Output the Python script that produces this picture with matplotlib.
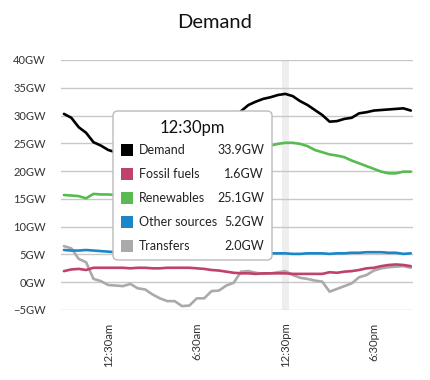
import matplotlib
matplotlib.use("Agg")
import matplotlib.pyplot as plt
from matplotlib.patches import FancyBboxPatch, Rectangle
import numpy as np

plt.rcParams['font.family'] = ['Lato', 'DejaVu Sans']

# Half-hourly samples from 9:30pm to 9:00pm (48 points)
tick_idx = [6, 18, 30, 42]
tick_labels = ["12:30am", "6:30am", "12:30pm", "6:30pm"]

demand = [30.3, 29.6, 27.9, 26.9, 25.2, 24.6, 23.8, 23.4, 23.0, 22.9, 22.4, 22.3,
          21.9, 21.8, 21.9, 22.3, 22.2, 22.9, 24.5, 25.0, 26.5, 27.1, 28.2, 28.8,
          30.8, 31.9, 32.5, 33.0, 33.3, 33.7, 33.9, 33.5, 32.6, 31.9, 31.0, 30.1,
          28.9, 29.0, 29.4, 29.6, 30.4, 30.6, 30.9, 31.0, 31.1, 31.2, 31.3, 30.9]
fossil = [2.0, 2.3, 2.4, 2.2, 2.6, 2.6, 2.6, 2.6, 2.6, 2.5, 2.6, 2.6,
          2.5, 2.5, 2.6, 2.6, 2.6, 2.6, 2.5, 2.4, 2.2, 2.1, 1.9, 1.7,
          1.6, 1.6, 1.5, 1.6, 1.6, 1.6, 1.6, 1.5, 1.5, 1.5, 1.5, 1.5,
          1.8, 1.7, 1.9, 2.0, 2.2, 2.5, 2.6, 2.9, 3.1, 3.2, 3.1, 2.9]
renewables = [15.7, 15.6, 15.5, 15.1, 15.9, 15.8, 15.8, 15.7, 15.7, 15.3, 15.5, 15.6,
              16.2, 16.8, 17.3, 17.7, 18.6, 19.2, 19.6, 20.2, 20.6, 21.2, 21.6, 21.9,
              22.0, 23.0, 23.9, 24.4, 24.6, 24.9, 25.1, 25.1, 24.9, 24.5, 23.8, 23.4,
              23.0, 22.8, 22.5, 21.9, 21.4, 20.9, 20.4, 19.9, 19.6, 19.6, 19.9, 19.9]
other = [5.8, 5.7, 5.7, 5.8, 5.7, 5.6, 5.5, 5.4, 5.4, 5.4, 5.4, 5.4,
         5.4, 5.4, 5.4, 5.4, 5.3, 5.3, 5.3, 5.3, 5.3, 5.3, 5.3, 5.3,
         5.3, 5.3, 5.3, 5.2, 5.2, 5.2, 5.2, 5.1, 5.1, 5.2, 5.2, 5.2,
         5.1, 5.2, 5.2, 5.3, 5.3, 5.4, 5.4, 5.4, 5.3, 5.3, 5.1, 5.2]
transfers = [6.5, 6.1, 4.2, 3.6, 0.6, 0.2, -0.5, -0.6, -0.7, -0.3, -1.1, -1.3,
             -2.2, -2.9, -3.4, -3.4, -4.3, -4.2, -2.9, -2.9, -1.6, -1.5, -0.6, -0.1,
             1.9, 2.0, 1.7, 1.5, 1.6, 1.8, 2.0, 1.3, 0.8, 0.6, 0.3, 0.1,
             -1.7, -1.2, -0.7, -0.2, 0.9, 1.3, 2.1, 2.5, 2.7, 2.8, 2.9, 2.6]

series_names = ["Demand", "Fossil fuels", "Renewables", "Other sources", "Transfers"]
series_colors = ["#000000", "#BF4368", "#58BB50", "#1B87C9", "#AAAAAA"]
series_data = [demand, fossil, renewables, other, transfers]
hover_idx = 30
hover_label = "12:30pm"
y_ticks = [-5, 0, 5, 10, 15, 20, 25, 30, 35, 40]

W, H = 430, 380
fig = plt.figure(figsize=(W / 100, H / 100), dpi=100)
ax = fig.add_axes([61 / W, 1 - 310 / H, (413 - 61) / W, (310 - 60) / H])

x = np.arange(len(demand))
ax.axvspan(hover_idx - 0.5, hover_idx + 0.5, color="#EEEEEE", zorder=0, lw=0)
draw_order = [4, 1, 3, 2, 0]
for k in draw_order:
    ax.plot(x, series_data[k], color=series_colors[k], lw=1.9, zorder=3,
            solid_joinstyle="round", solid_capstyle="round")

ax.set_xlim(-0.4, 47.3)
ax.set_ylim(-5, 40)
ax.set_yticks(y_ticks)
ax.set_yticklabels([f"{v}GW".replace("-", "\u2212") for v in y_ticks])
ax.set_xticks(tick_idx)
ax.set_xticklabels(tick_labels, rotation=90)
ax.grid(axis="y", color="#C8C8C8", lw=1)
ax.set_axisbelow(True)
for s in ax.spines.values():
    s.set_visible(False)
ax.tick_params(axis="both", length=0, labelsize=8.2, colors="#333333")
ax.tick_params(axis="y", labelsize=8, pad=11)
ax.tick_params(axis="x", pad=9)

fig.text(0.5, 1 - 22 / H, "Demand", ha="center", va="center", fontsize=14.5,
         color="#111111", fontweight="normal")

# Tooltip
def fx(px):
    return px / W

def fy(py):
    return 1 - py / H

bx0, by0, bx1, by1 = 113, 111, 272, 260
box = FancyBboxPatch((fx(bx0), fy(by1)), fx(bx1) - fx(bx0), fy(by0) - fy(by1),
                     boxstyle="round,pad=0,rounding_size=0.012",
                     transform=fig.transFigure, facecolor="white",
                     edgecolor="#BBBBBB", lw=1, zorder=10)
fig.patches.append(box)
fig.text(fx(192), fy(128), hover_label, ha="center", va="center",
         fontsize=12, color="#111111", fontweight="normal", zorder=11)
row_y = [150, 174, 198, 222, 246]
for k in range(len(series_names)):
    ry = row_y[k]
    sq = Rectangle((fx(121), fy(ry + 6)), fx(12), 12 / H, transform=fig.transFigure,
                   facecolor=series_colors[k], edgecolor="none", zorder=11)
    fig.patches.append(sq)
    fig.text(fx(139), fy(ry), series_names[k], ha="left", va="center",
             fontsize=9, color="#222222", zorder=11)
    fig.text(fx(264), fy(ry), f"{series_data[k][hover_idx]:.1f}GW", ha="right",
             va="center", fontsize=9, color="#222222", zorder=11)

fig.savefig("out.png", dpi=100)
